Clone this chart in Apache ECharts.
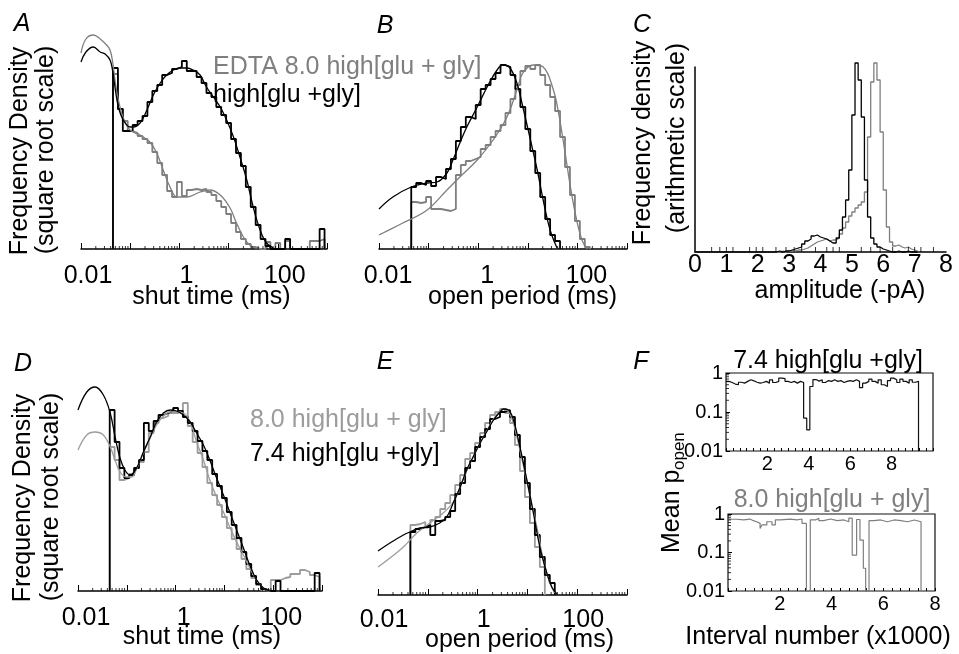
<!DOCTYPE html>
<html><head><meta charset="utf-8">
<script src="https://cdn.jsdelivr.net/npm/echarts@6/dist/echarts.min.js"></script>
<style>html,body{margin:0;padding:0;background:#fff}#c{width:959px;height:654px}</style>
</head><body><div id="c"></div>
<script>
const FONT = "'Liberation Sans', Arial, Helvetica, sans-serif";
const BLACK = '#000';
const GRAY = '#7f7f7f';
const LGRAY = '#9c9c9c';

// dwell-time histograms: bins of 0.1 log10 unit, first edge at log10(t/ms) = -1.35
const binStartLog = -1.35;
const binWidthLog = 0.1;

// A: shut times (sqrt density, arbitrary units)
const aHistBlack = [181,140,118,118,124,128,133,147,158,164,174,176,180,182,188,178,178,172,166,156,152,142,134,126,110,96,83,62,42,24,10,3,0,0,0,10,0,0,0,0,0,0,20];
const aHistGray  = [175,140,128,118,116,113,110,106,97,86,74,58,52,67,53,59,60,59,60,57,54,48,42,35,26,17,10,5,2,0,0,7,0,6,0,8,0,0,0,0,8,8,10];
const aFitBlackLogT = [-2.0,-1.9,-1.75,-1.61,-1.51,-1.41,-1.36,-1.31,-1.24,-1.14,-1.0,-0.94,-0.8,-0.66,-0.53,-0.39,-0.26,-0.12,0.01,0.15,0.28,0.42,0.55,0.69,0.83,0.96,1.1,1.23,1.37,1.5,1.64,1.77,1.91];
const aFitBlackY    = [187,197,202,197,195,189,179,162,142,129,122,122,126,139,154,166,174,179,181,181,179,174,162,152,142,129,112,92,69,42,19,6,1];
const aFitGrayLogT = [-2.0,-1.9,-1.75,-1.61,-1.48,-1.41,-1.36,-1.31,-1.24,-1.14,-1.0,-0.8,-0.6,-0.46,-0.33,-0.19,-0.05,0.15,0.42,0.62,0.83,1.03,1.16,1.3,1.43,1.57];
const aFitGrayY    = [196,210,214,210,204,199,188,169,149,131,119,114,107,96,79,62,52,52,57,59,54,41,26,12,4,1];

// B: open periods
const bHistBlack = [62,66,64,68,63,72,70,80,90,108,122,132,130,144,160,164,170,176,184,182,174,160,142,120,98,76,52,30,14,8];
const bHistGray  = [47,46,47,52,40,40,39,38,40,74,84,88,90,92,100,104,112,118,124,136,150,164,178,183,180,184,174,164,152,138,112,82,54,28,10,2];
const bFitBlackLogT = [-2.0,-1.72,-1.35,-1.03,-0.83,-0.63,-0.51,-0.37,-0.23,-0.02,0.18,0.38,0.5,0.64,0.78,0.9,1.04,1.19,1.31,1.45,1.59];
const bFitBlackY    = [40,52,62,66,67,76,89,106,122,142,162,179,184,181,166,142,112,79,49,19,1];
const bFitGrayLogT = [-2.0,-1.92,-1.52,-1.03,-0.63,-0.37,-0.02,0.3,0.58,0.78,0.9,1.11,1.31,1.51,1.62,1.74,1.86,1.98,2.1,2.2];
const bFitGrayY    = [14,16,26,39,59,72,89,109,132,159,176,184,182,160,136,100,62,30,8,0];

// C: amplitude histograms (bins of 0.1 pA from 2.5 pA)
const cBinStart = 2.5;
const cBinWidth = 0.1;
const cHistBlack = [0,1,0,1,1,2,3,4,5,8,11,13,16,17,15,14,13,11,9,9,14,22,35,52,82,137,189,172,135,72,35,14,8,5,3,2,1,0,0,1,0,0,1,0,0,0];
const cHistGray  = [0,0,1,0,1,1,1,2,2,3,4,6,8,10,11,12,13,11,12,12,14,18,24,30,36,40,44,47,50,60,115,170,189,172,120,62,25,10,6,7,5,4,5,3,2,1];
const cTickMarks = [0.53,0.79,1.0,1.21,1.74,1.95,2.16,2.58,2.9,3.16,3.4,3.84,4.2,4.4,4.6,5.3,5.6,5.9,6.3,6.8,7.0,7.2,7.6];

// D: shut times pH 7.4 vs 8.0
const dHistBlack = [181,149,123,113,116,123,131,168,160,170,176,178,180,183,180,174,168,160,150,140,131,117,105,93,79,66,53,39,27,15,7,2,0,0,10,0,0,0,0,0,0,0,18];
const dHistGray  = [144,131,111,113,117,123,129,139,158,168,173,175,178,178,180,188,165,149,138,124,108,96,86,74,63,52,42,32,22,13,6,1,0,11,11,13,14,17,17,21,19,16,14];
const dFitBlackLogT = [-2.0,-1.82,-1.65,-1.48,-1.34,-1.24,-1.14,-1.04,-0.93,-0.8,-0.66,-0.52,-0.39,-0.25,-0.11,0.02,0.16,0.3,0.43,0.57,0.7,0.84,0.98,1.11,1.25,1.39,1.52,1.66,1.8,1.93];
const dFitBlackY    = [181,199,204,196,178,154,133,121,116,123,139,154,169,178,181,180,176,169,158,146,131,113,96,79,61,43,26,11,3,0];
const dFitGrayLogT = [-2.0,-1.82,-1.65,-1.48,-1.34,-1.24,-1.14,-1.0,-0.9,-0.8,-0.66,-0.52,-0.39,-0.25,-0.11,0.02,0.16,0.3,0.43,0.57,0.7,0.84,0.98,1.11,1.25,1.39,1.52,1.66,1.8,1.93];
const dFitGrayY    = [141,156,159,156,144,131,119,114,114,122,138,153,166,175,179,179,178,169,149,131,111,94,79,64,49,36,23,11,3,0];

// E: open periods pH 7.4 vs 8.0
const eHistBlack = [63,66,68,70,60,74,75,78,84,101,112,127,134,148,158,166,176,178,183,185,178,160,138,112,86,60,38,20,12];
const eHistGray  = [70,71,73,68,75,78,86,92,100,110,120,136,142,152,162,172,180,183,186,182,172,150,124,98,72,48,28];
const eFitBlackLogT = [-2.0,-1.76,-1.49,-1.36,-1.16,-0.96,-0.76,-0.62,-0.49,-0.35,-0.22,-0.09,0.05,0.18,0.32,0.45,0.52,0.62,0.72,0.85,0.99,1.12,1.25,1.39,1.49,1.59];
const eFitBlackY    = [44,52,60,63,67,68,72,78,92,108,125,138,152,163,175,183,186,185,175,148,115,82,48,22,8,1];
const eFitGrayLogT = [-2.0,-1.76,-1.49,-1.22,-0.96,-0.69,-0.49,-0.35,-0.22,-0.09,0.05,0.18,0.32,0.45,0.55,0.64,0.74,0.85,1.04,1.19,1.32,1.45,1.55];
const eFitGrayY    = [28,37,48,62,72,82,93,108,124,138,152,164,176,184,186,182,168,145,102,68,35,12,2];

// F: mean Popen vs interval number (x1000)
const fTopBinWidth = 0.15;
const fTopP = [0.61,0.57,0.52,0.50,0.58,0.55,0.61,0.67,0.63,0.58,
               0.55,0.57,0.61,0.55,0.67,0.57,0.61,0.74,0.72,0.61,
               0.57,0.61,0.55,0.61,0.57,0.07,0.035,0.45,0.68,0.62,
               0.67,0.57,0.64,0.61,0.67,0.61,0.64,0.57,0.61,0.64,
               0.61,0.67,0.61,0.42,0.55,0.61,0.70,0.61,0.55,0.67,
               0.50,0.45,0.64,0.74,0.67,0.57,0.70,0.61,0.55,0.67,
               0.58,0.61];
const fBotX = [0,0.34,0.6,0.85,0.98,1.11,1.24,1.31,1.5,1.7,1.83,2.02,2.41,2.67,2.86,3.03,3.18,3.38,3.51,3.7,3.96,4.22,4.48,4.67,4.8,4.97,5.1,5.23,5.32,5.45,5.64,5.9,6.16,6.42,6.68,6.94,7.2,7.46];
const fBotP = [0.73,0.7,0.74,0.67,0.63,0.57,0.42,0.52,0.63,0.52,0.7,0.74,0.7,0.74,0.57,0.01,0.7,0.78,0.67,0.74,0.67,0.7,0.63,0.78,0.085,0.72,0.21,0.039,0.01,0.67,0.7,0.63,0.7,0.67,0.63,0.7,0.63];

// log-axis minor ticks
const logTickMultipliers = [2,3,4,5,6,7,8,9];
const logTickDecades = [0.01,0.1,1,10,100];
const fTickDecades = [0.01,0.1];

// ---------- builders ----------
function histLog(vals){
  const edge = i => Math.pow(10, binStartLog + i*binWidthLog);
  const pts = [[edge(0),0]];
  vals.forEach((v,i)=>{ pts.push([edge(i),v]); pts.push([edge(i+1),v]); });
  pts.push([edge(vals.length),0]);
  return pts;
}
function histLin(vals,start,w){
  const pts = [[0,0],[start,0]];
  vals.forEach((v,i)=>{ pts.push([start+i*w,v]); pts.push([start+(i+1)*w,v]); });
  pts.push([start+vals.length*w,0]);
  return pts;
}
function curve(logT, y){ return logT.map((l,i)=>[Math.pow(10,l), y[i]]); }
function minorLog(decs){ const o=[]; decs.forEach(d=>logTickMultipliers.forEach(m=>o.push(m*d))); return o; }

function line(gi, data, color, width, smooth, z){
  return {type:'line', xAxisIndex:gi, yAxisIndex:gi, data, symbol:'none', showSymbol:false,
    smooth: smooth||false, clip:false, silent:true, animation:false, z: z||2,
    lineStyle:{color, width}};
}
function tickMarks(gi, data, size, offset){
  return {type:'scatter', xAxisIndex:gi, yAxisIndex:gi, data, symbol:'rect', symbolSize:size,
    symbolOffset:offset, itemStyle:{color:'#000'}, silent:true, clip:false, animation:false, z:5};
}
function logLabel(v){ const e=Math.round(Math.log10(v)); return e===-2?'0.01':(e===0?'1':(e===2?'100':'')); }
function logX(gi, shift, margin){
  return {type:'log', logBase:10, gridIndex:gi, min:0.01, max:1000, splitNumber:5,
    axisLine:{show:true, onZero:false, lineStyle:{color:'#000', width:1.5}},
    axisTick:{show:true, inside:true, length:6, interval:0, lineStyle:{color:'#000', width:1}},
    splitLine:{show:false}, minorTick:{show:false},
    axisLabel:{show:true, interval:0, fontSize:25, fontFamily:FONT, color:'#000', margin, padding:[0,0,0,shift*2], formatter:logLabel}};
}
function hiddenY(gi, max){
  return {type:'value', gridIndex:gi, min:0, max, show:false, splitLine:{show:false}};
}
function fLabel(v){ const e=Math.round(Math.log10(v)); return e===0?'1':(e===-1?'0.1':'0.01'); }
function fY(gi, pad){
  return {type:'log', logBase:10, gridIndex:gi, min:0.01, max:1,
    axisLine:{show:false}, splitLine:{show:false},
    axisTick:{show:true, inside:true, length:4, lineStyle:{color:'#000'}},
    axisLabel:{fontSize:20, fontFamily:FONT, color:'#000', margin:3, padding:[pad,0,0,0], formatter:fLabel}};
}
function fX(gi, max){
  return {type:'value', gridIndex:gi, min:0, max, interval:2,
    axisLine:{show:false}, splitLine:{show:false},
    axisTick:{show:true, inside:true, length:3, lineStyle:{color:'#000'}},
    minorTick:{show:true, splitNumber:6, length:3, lineStyle:{color:'#000'}},
    axisLabel:{fontSize:20, fontFamily:FONT, color:'#000', margin:3,
      formatter: v => (v===0 || v===10) ? '' : String(v)}};
}

const logMinor = minorLog(logTickDecades).map(v=>[v,0]);
const fMinor = minorLog(fTickDecades).map(v=>[0,v]);

const fTopData = (()=>{ const p=[]; fTopP.forEach((v,i)=>{p.push([i*fTopBinWidth,v]);p.push([(i+1)*fTopBinWidth,v]);}); p.push([fTopP.length*fTopBinWidth,0.01]); return p; })();
const fBotData = (()=>{ const p=[]; fBotP.forEach((v,i)=>{p.push([fBotX[i],v]);p.push([fBotX[i+1],v]);}); p.push([fBotX[fBotX.length-1],0.01]); return p; })();

function T(text, x, y, size, o){
  o = o || {};
  const al = o.align || 'center';
  return {type:'text', x, y, rotation:o.rot||0, silent:true, z:100,
    style:{text, fill:o.color||'#000', font:(o.italic?'italic ':'')+size+'px '+FONT,
      textAlign:al, align:al, textVerticalAlign:'middle', verticalAlign:'middle'}};
}
const R = Math.PI/2;

const option = {
  animation:false,
  backgroundColor:'#fff',
  grid:[
    {left:81, top:30, width:246, height:219, outerBoundsMode:'none', containLabel:false},
    {left:379, top:30, width:248, height:219, outerBoundsMode:'none', containLabel:false},
    {left:695, top:67, width:251, height:185, outerBoundsMode:'none', containLabel:false},
    {left:78, top:371, width:244, height:220, outerBoundsMode:'none', containLabel:false},
    {left:378, top:375, width:249, height:220, outerBoundsMode:'none', containLabel:false},
    {left:726, top:373, width:207, height:78, show:true, borderColor:'#111', borderWidth:1.2, outerBoundsMode:'none', containLabel:false},
    {left:728, top:514, width:207, height:77, show:true, borderColor:'#111', borderWidth:1.2, outerBoundsMode:'none', containLabel:false}
  ],
  xAxis:[
    logX(0, 7, 15),
    logX(1, 9, 15),
    {type:'value', gridIndex:2, min:0, max:8, interval:1,
      axisLine:{show:true, onZero:false, lineStyle:{color:'#000', width:1.5}},
      axisTick:{show:false}, splitLine:{show:false},
      axisLabel:{fontSize:25, fontFamily:FONT, color:'#000', margin:1}},
    logX(3, 8, 15),
    logX(4, 6, 13),
    fX(5, 10),
    fX(6, 8)
  ],
  yAxis:[
    hiddenY(0, 219),
    hiddenY(1, 219),
    {type:'value', gridIndex:2, min:0, max:185,
      axisLine:{show:true, onZero:false, lineStyle:{color:'#000', width:1.5}},
      axisTick:{show:false}, axisLabel:{show:false}, splitLine:{show:false}},
    hiddenY(3, 220),
    hiddenY(4, 220),
    fY(5, 16),
    fY(6, 12)
  ],
  series:[
    // A
    line(0, histLog(aHistGray), GRAY, 1.8),
    line(0, histLog(aHistBlack), BLACK, 1.8),
    line(0, curve(aFitGrayLogT, aFitGrayY), GRAY, 1.3, 0.4, 3),
    line(0, curve(aFitBlackLogT, aFitBlackY), BLACK, 1.3, 0.4, 3),
    tickMarks(0, logMinor, [1,3], [0,-1.5]),
    // B
    line(1, histLog(bHistGray), GRAY, 1.8),
    line(1, histLog(bHistBlack), BLACK, 1.8),
    line(1, curve(bFitGrayLogT, bFitGrayY), GRAY, 1.3, 0.4, 3),
    line(1, curve(bFitBlackLogT, bFitBlackY), BLACK, 1.3, 0.4, 3),
    tickMarks(1, logMinor, [1,3], [0,-1.5]),
    // C
    line(2, histLin(cHistGray, cBinStart, cBinWidth), GRAY, 1.3),
    line(2, histLin(cHistBlack, cBinStart, cBinWidth), BLACK, 1.3),
    tickMarks(2, cTickMarks.map(v=>[v,0]), [1,5], [0,-2.5]),
    // D
    line(3, histLog(dHistGray), LGRAY, 1.8),
    line(3, histLog(dHistBlack), BLACK, 1.8),
    line(3, curve(dFitGrayLogT, dFitGrayY), LGRAY, 1.3, 0.4, 3),
    line(3, curve(dFitBlackLogT, dFitBlackY), BLACK, 1.3, 0.4, 3),
    tickMarks(3, logMinor, [1,3], [0,-1.5]),
    // E
    line(4, histLog(eHistGray), LGRAY, 1.8),
    line(4, histLog(eHistBlack), BLACK, 1.8),
    line(4, curve(eFitGrayLogT, eFitGrayY), LGRAY, 1.3, 0.4, 3),
    line(4, curve(eFitBlackLogT, eFitBlackY), BLACK, 1.3, 0.4, 3),
    tickMarks(4, logMinor, [1,3], [0,-1.5]),
    // F
    line(5, fTopData, '#111', 1.2),
    tickMarks(5, fMinor, [3,1], [1.5,0]),
    line(6, fBotData, GRAY, 1.2),
    tickMarks(6, fMinor, [3,1], [1.5,0])
  ],
  graphic:{elements:[
    T('A', 22, 24, 25, {italic:true}),
    T('B', 385, 26, 25, {italic:true}),
    T('D', 23, 364, 25, {italic:true}),
    T('E', 385, 362, 25, {italic:true}),
    T('F', 641, 362, 25, {italic:true}),
    T('Frequency Density', 20, 151, 25, {rot:R}),
    T('(square root scale)', 46, 150, 25, {rot:R}),
    T('Frequency density', 643, 143, 25, {rot:R}),
    T('(arithmetic scale)', 677, 138, 25, {rot:R}),
    T('C', 642, 25, 25, {italic:true}),
    T('Frequency Density', 23, 498, 25, {rot:R}),
    T('(square root scale)', 51, 497, 25, {rot:R}),
    T('Mean p', 672, 553, 25, {rot:R, align:'left'}),
    T('open', 679, 470, 17, {rot:R, align:'left'}),
    T('shut time (ms)', 211.5, 297, 25),
    T('open period (ms)', 522.5, 297, 25),
    T('amplitude (-pA)', 840, 291, 25),
    T('shut time (ms)', 202, 637, 25),
    T('open period (ms)', 519.5, 640, 25),
    T('Interval number (x1000)', 818, 637, 25),
    T('EDTA 8.0 high[glu + gly]', 213, 67, 25, {align:'left', color:GRAY}),
    T('high[glu +gly]', 213, 95, 25, {align:'left'}),
    T('8.0 high[glu + gly]', 250, 420, 25, {align:'left', color:LGRAY}),
    T('7.4 high[glu +gly]', 250, 454, 25, {align:'left'}),
    T('7.4 high[glu +gly]', 828, 361, 25),
    T('8.0 high[glu + gly]', 832, 500, 25, {color:GRAY})
  ]}
};

const chart = echarts.init(document.getElementById('c'), null, {renderer:'canvas', width:959, height:654});
chart.setOption(option);
</script>
</body></html>
